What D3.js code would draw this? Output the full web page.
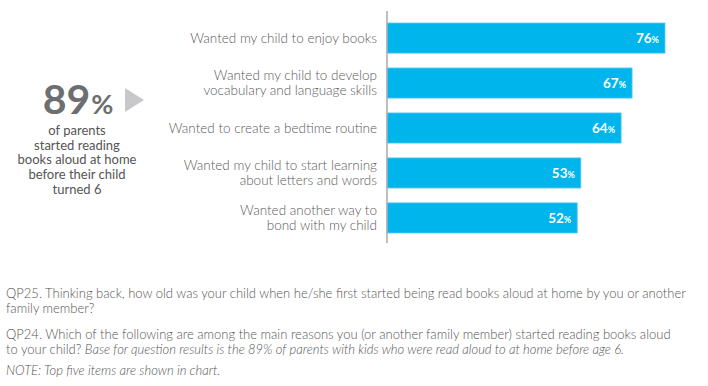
<!DOCTYPE html>
<html>
<head>
<meta charset="utf-8">
<script src="https://cdn.jsdelivr.net/npm/d3@7"></script>
<style>
  body { margin: 0; background: #fff; }
  svg { display: block; font-family: Lato, "Open Sans", sans-serif; }
</style>
</head>
<body>
<div id="chart"></div>
<script>
const reasons = [
  ['Wanted my child to enjoy books'],
  ['Wanted my child to develop', 'vocabulary and language skills'],
  ['Wanted to create a bedtime routine'],
  ['Wanted my child to start learning', 'about letters and words'],
  ['Wanted another way to', 'bond with my child']
];
const shares = [76, 67, 64, 53, 52];
const headline = 89;
const headlineLines = ['of parents', 'started reading', 'books aloud at home', 'before their child', 'turned 6'];
const notes = [
  [{ t: 'QP25. Thinking back, how old was your child when he/she first started being read books aloud at home by you or another' }],
  [{ t: 'family member?' }],
  [{ t: 'QP24. Which of the following are among the main reasons you (or another family member) started reading books aloud' }],
  [{ t: 'to your child? ' }, { t: 'Base for question results is the 89% of parents with kids who were read aloud to at home before age 6.', i: true }],
  [{ t: 'NOTE: Top five items are shown in chart.', i: true }]
];
const noteRows = [298, 313, 339, 354, 375];

const width = 708, height = 386;
const margin = { left: 387, top: 14, bottom: 144 };

const svg = d3.select('#chart').append('svg')
  .attr('width', width)
  .attr('height', height);

const x = d3.scaleLinear().domain([0, 76]).range([margin.left, 665]);
const y = d3.scaleBand().domain(d3.range(shares.length))
  .range([margin.top, height - margin.bottom])
  .paddingInner(0.33).paddingOuter(0.2);

// bars
const bars = svg.append('g').attr('class', 'bars');
bars.selectAll('rect')
  .data(shares)
  .join('rect')
  .attr('x', x(0))
  .attr('y', (d, i) => y(i))
  .attr('width', d => x(d) - x(0))
  .attr('height', y.bandwidth())
  .attr('fill', '#00b4ec')
  .attr('stroke', '#5ccdf3')
  .attr('stroke-width', 0.8);

// value labels
const vals = bars.selectAll('text')
  .data(shares)
  .join('text')
  .attr('x', d => x(d) - 6)
  .attr('y', (d, i) => y(i) + y.bandwidth() / 2 + 5)
  .attr('text-anchor', 'end')
  .attr('fill', '#fff')
  .attr('font-weight', 700);
vals.append('tspan').attr('font-size', 13.5).text(d => d);
vals.append('tspan').attr('font-size', 9).text('%');

// axis line
svg.append('line')
  .attr('x1', x(0)).attr('x2', x(0))
  .attr('y1', 11).attr('y2', 243)
  .attr('stroke', '#aaa')
  .attr('stroke-width', 1.5);

// category labels
const labels = svg.append('g').attr('class', 'labels');
reasons.forEach((lines, i) => {
  const cy = y(i) + y.bandwidth() / 2;
  const t = labels.append('text')
    .attr('text-anchor', 'end')
    .attr('fill', '#5a5a5a')
    .attr('font-size', 13.5)
    .attr('font-weight', 300);
  lines.forEach((l, j) => {
    t.append('tspan')
      .attr('x', 377)
      .attr('y', cy + 4.5 + (j - (lines.length - 1) / 2) * 15)
      .text(l);
  });
});

// headline block
const head = svg.append('g').attr('class', 'headline');
const big = head.append('text')
  .attr('x', 78).attr('y', 114)
  .attr('text-anchor', 'middle')
  .attr('fill', '#6d6e71')
  .attr('font-weight', 700);
big.append('tspan').attr('font-size', 41).text(headline);
big.append('tspan').attr('font-size', 27).attr('dx', 1).text('%');

head.append('path')
  .attr('d', 'M125,88 L144,100 L125,112 Z')
  .attr('fill', '#c8c8ca');

const sub = head.append('text')
  .attr('text-anchor', 'middle')
  .attr('fill', '#555')
  .attr('font-size', 13);
headlineLines.forEach((l, j) => {
  sub.append('tspan').attr('x', 77).attr('y', 135 + j * 14.7).text(l);
});

// footnotes
const foot = svg.append('g').attr('class', 'notes')
  .attr('fill', '#555')
  .attr('font-size', 13)
  .attr('font-weight', 300);
notes.forEach((parts, j) => {
  const t = foot.append('text').attr('x', 6).attr('y', noteRows[j]);
  parts.forEach(p => {
    t.append('tspan').attr('font-style', p.i ? 'italic' : null).text(p.t);
  });
});
</script>
</body>
</html>
